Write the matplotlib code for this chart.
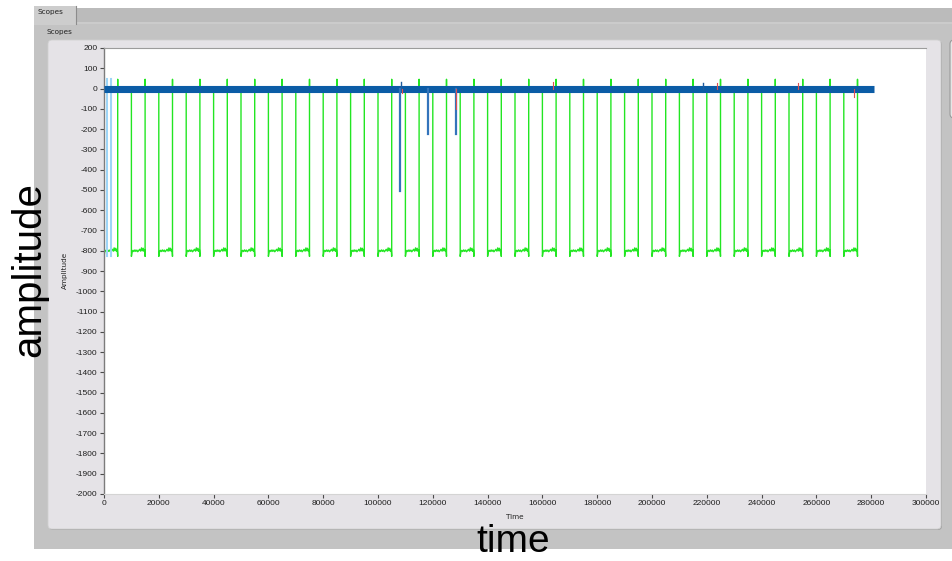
import matplotlib
matplotlib.use("Agg")
import matplotlib.pyplot as plt
from matplotlib.patches import Rectangle, FancyBboxPatch
from matplotlib.ticker import ScalarFormatter

plt.rcParams['axes.unicode_minus'] = False

# green channel: square wave, falling edge -> low level, rising edge -> back to 0
fall_times = [0, 10000, 20000, 30000, 40000, 50000, 60000, 70000, 80000, 90000,
              100000, 110000, 120000, 130000, 140000, 150000, 160000, 170000,
              180000, 190000, 200000, 210000, 220000, 230000, 240000, 250000,
              260000, 270000]
rise_times = [5000, 15000, 25000, 35000, 45000, 55000, 65000, 75000, 85000, 95000,
              105000, 115000, 125000, 135000, 145000, 155000, 165000, 175000,
              185000, 195000, 205000, 215000, 225000, 235000, 245000, 255000,
              265000, 275000]
green_end = 280000
edge_undershoot = -828
edge_overshoot = 45
# ripple on the low level (offset after the falling edge, amplitude)
low_dt = [250, 600, 900, 1300, 1600, 2000, 2300, 2700, 3000, 3400, 3700, 4000,
          4300, 4600, 4850]
low_v = [-806, -798, -804, -796, -803, -797, -805, -799, -793, -802, -786, -800,
         -788, -803, -795]

# blue channel: baseline band and the three dips
band_t = [0, 281000]
band_v = [0, 0]
dip_t = [108000, 118300, 128500]
dip_v = [-505, -222, -222]
blip_blue_t = [108500, 218500]
blip_blue_v = [33, 28]

# light blue channel at the start
cyan_t = [1000, 2400]
cyan_top = 48
cyan_bottom = -828

# red channel blips
red_t = [108900, 128600, 163700, 223600, 253200, 273600]
red_v = [-20, -101, 30, 28, 28, -40]

# build the green polyline
gx, gy = [], []
for tf, tr in zip(fall_times, rise_times):
    gx += [tf, tf]
    gy += [0, edge_undershoot]
    for dt, v in zip(low_dt, low_v):
        gx.append(tf + dt)
        gy.append(v)
    gx += [tr, tr, tr]
    gy += [edge_undershoot, edge_overshoot, 0]
gx.append(green_end)
gy.append(0)

fig = plt.figure(figsize=(9.53, 5.61), dpi=100)

# panel chrome, drawn in pixel coordinates
bg = fig.add_axes([0, 0, 1, 1], zorder=0)
bg.set_xlim(0, 953)
bg.set_ylim(561, 0)
bg.axis('off')
bg.add_patch(Rectangle((34, 8), 919, 541, facecolor='#b9b9b9', edgecolor='none'))
bg.add_patch(Rectangle((77, 8), 876, 14, facecolor='#bbbbbb', edgecolor='none'))
bg.add_patch(Rectangle((77, 22), 876, 2, facecolor='#cbcbcb', edgecolor='none'))
bg.add_patch(Rectangle((34, 24), 919, 525, facecolor='#c3c3c3', edgecolor='none'))
bg.add_patch(Rectangle((34, 6), 42, 19, facecolor='#cdcdcd', edgecolor='none'))
bg.plot([76, 76], [6, 24], color='#8c8c8c', lw=0.8)
bg.text(38, 12, 'Scopes', fontsize=5.2, family='DejaVu Sans', color='#222222',
        va='center', ha='left')
bg.text(47, 32, 'Scopes', fontsize=5.2, family='DejaVu Sans', color='#222222',
        va='center', ha='left')
bg.add_patch(FancyBboxPatch((49, 41), 893, 489, boxstyle='round,pad=0,rounding_size=4',
                            facecolor='#a3a3a3', edgecolor='none'))
bg.add_patch(FancyBboxPatch((48, 40), 893, 489, boxstyle='round,pad=0,rounding_size=4',
                            facecolor='#e5e3e7', edgecolor='#d0d0d0', lw=0.6))
bg.add_patch(FancyBboxPatch((950, 40), 20, 78, boxstyle='round,pad=0,rounding_size=4',
                            facecolor='#e6e6e6', edgecolor='#9a9a9a', lw=0.8))

# big axis captions
bg.text(29, 270, 'amplitude', rotation=90, fontsize=29, family='Liberation Sans',
        ha='center', va='center', color='black')
bg.text(513, 552, 'time', fontsize=28, family='Liberation Sans',
        ha='center', va='baseline', color='black')

# scope graph
ax = fig.add_axes([104 / 953, 67 / 561, 822 / 953, 446 / 561], zorder=1)
ax.set_facecolor('white')

ax.plot(gx, gy, color='#22e622', lw=1.0, zorder=2)
for t in cyan_t:
    ax.plot([t, t], [cyan_top, cyan_bottom], color='#9dd5f7', lw=1.5, zorder=3)
ax.plot(band_t, band_v, color='#0b5ca6', lw=5.1, solid_capstyle='butt', zorder=4)
for t, v in zip(dip_t, dip_v):
    ax.plot([t, t], [0, v], color='#3374bb', lw=1.6, zorder=5)
for t, v in zip(blip_blue_t, blip_blue_v):
    ax.plot([t, t], [0, v], color='#1f5c9e', lw=1.0, zorder=5)
for t, v in zip(red_t, red_v):
    ax.plot([t, t], [0, v], color='#e05050', lw=0.8, zorder=6)

ax.set_xlim(0, 300000)
ax.set_ylim(-2000, 200)
ax.set_xticks(range(0, 300001, 20000))
ax.set_yticks(range(-2000, 201, 100))
fmt = ScalarFormatter(useOffset=False)
fmt.set_scientific(False)
ax.xaxis.set_major_formatter(fmt)

ax.spines['right'].set_visible(False)
ax.spines['left'].set_color('#7c7c7c')
ax.spines['left'].set_linewidth(1.0)
ax.spines['top'].set_color('#9c9c9c')
ax.spines['top'].set_linewidth(0.8)
ax.spines['bottom'].set_color('#d4d4d4')
ax.spines['bottom'].set_linewidth(0.8)

ax.tick_params(direction='out', length=3, width=0.8, color='#4a4a4a',
               labelsize=6, labelcolor='#1e1e1e', pad=1.5)
for lab in ax.get_xticklabels() + ax.get_yticklabels():
    lab.set_family('Liberation Sans')

ax.set_xlabel('Time', fontsize=5.2, family='DejaVu Sans', color='#222222')
ax.xaxis.set_label_coords(0.5, -0.045)
ax.set_ylabel('Amplitude', fontsize=5.2, family='DejaVu Sans', color='#222222')
ax.yaxis.set_label_coords(-0.044, 0.502)

fig.savefig('out.png', dpi=100)
